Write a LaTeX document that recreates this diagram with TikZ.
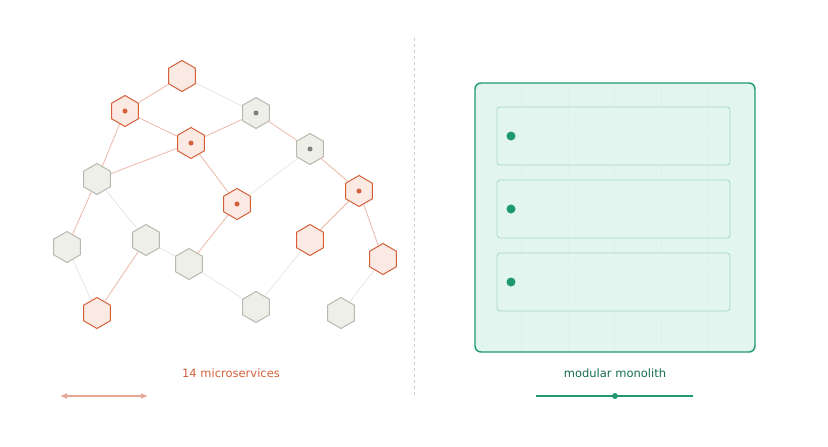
\documentclass[tikz,border=0pt]{standalone}
\usepackage{fontspec}
\setmainfont{DejaVu Sans}
\usetikzlibrary{shapes.geometric,arrows.meta}
\definecolor{org}{HTML}{D4603A}
\definecolor{orgfill}{HTML}{FBE9E3}
\definecolor{gry}{HTML}{B8B8AE}
\definecolor{gryfill}{HTML}{EFEFEA}
\definecolor{grn}{HTML}{1E9A6E}
\definecolor{grnfill}{HTML}{E2F5EE}
\begin{document}
\begin{tikzpicture}[x=1pt,y=-1pt,
 hex/.style={regular polygon,regular polygon sides=6,shape border rotate=30,minimum size=31pt,inner sep=0pt,line width=1pt},
 oh/.style={hex,draw=org,fill=orgfill},
 gh/.style={hex,draw=gry,fill=gryfill},
 oe/.style={draw=org!45,line width=0.8pt},
 ge/.style={draw=gry!35,line width=0.8pt},
 dot/.style={circle,inner sep=0pt,minimum size=5pt},
 lab/.style={font=\fontsize{11.5}{13}\selectfont}]
\useasboundingbox (0,0) rectangle (828,447);
\node[oh] (A) at (182,76) {};
\node[oh] (B) at (125,111) {};
\node[oh] (C) at (191,143) {};
\node[gh] (D) at (256,113) {};
\node[gh] (E) at (310,149) {};
\node[gh] (F) at (97,179) {};
\node[oh] (G) at (237,204) {};
\node[oh] (H) at (359,191) {};
\node[gh] (I) at (67,247) {};
\node[gh] (J) at (146,240) {};
\node[gh] (K) at (189,264) {};
\node[oh] (L) at (310,240) {};
\node[oh] (M) at (383,259) {};
\node[oh] (N) at (97,313) {};
\node[gh] (O) at (256,307) {};
\node[gh] (P) at (341,313) {};
\foreach \a/\b in {A/B,B/C,B/F,C/D,C/F,C/G,D/E,E/H,F/I,J/N,G/K,H/L,H/M}
  \draw[oe] (\a) -- (\b);
\foreach \a/\b in {A/D,E/G,F/J,I/N,J/K,L/O,K/O,M/P}
  \draw[ge] (\a) -- (\b);
\foreach \n in {B,C,G,H} \node[dot,fill=org] at (\n) {};
\foreach \n in {D,E} \node[dot,fill=gray] at (\n) {};
\draw[gray!40,dashed,line width=0.8pt] (414,38) -- (414,398);
\node[lab,text=org] (t1) at (231,373) {14 microservices};
\coordinate (a1) at (60,396); \coordinate (a2) at (148,396);
\draw[org!55,line width=1.2pt,{Latex[length=7pt,width=6pt]}-{Latex[length=7pt,width=6pt]}] (a1) -- (a2);
\node[draw=grn,fill=grnfill,line width=1.4pt,rounded corners=6pt,minimum width=280pt,minimum height=269pt] (box) at (615,217.5) {};
\foreach \x in {521.5,568,614.5,661,707.5} \draw[grn!15,line width=0.6pt] (\x,84) -- (\x,351);
\foreach \y in {129.5,176,222.5,269,315.5} \draw[grn!12,line width=0.6pt] (476,\y) -- (754,\y);
\foreach \i/\y in {1/136,2/209,3/282} {
  \node[draw=grn!40,fill=grnfill,fill opacity=0.5,draw opacity=1,line width=0.8pt,rounded corners=3pt,minimum width=233pt,minimum height=58pt] (m\i) at (613.5,\y) {};
  \node[dot,fill=grn,minimum size=9pt] (d\i) at (511,\y) {};
}
\node[lab,text=grn!70!black] (t2) at (615,373) {modular monolith};
\coordinate (b1) at (536,396); \coordinate (b2) at (693,396);
\draw[grn,line width=1.2pt] (b1) -- (b2);
\node[dot,fill=grn,minimum size=6pt] (bd) at (615,396) {};
\end{tikzpicture}
\end{document}
